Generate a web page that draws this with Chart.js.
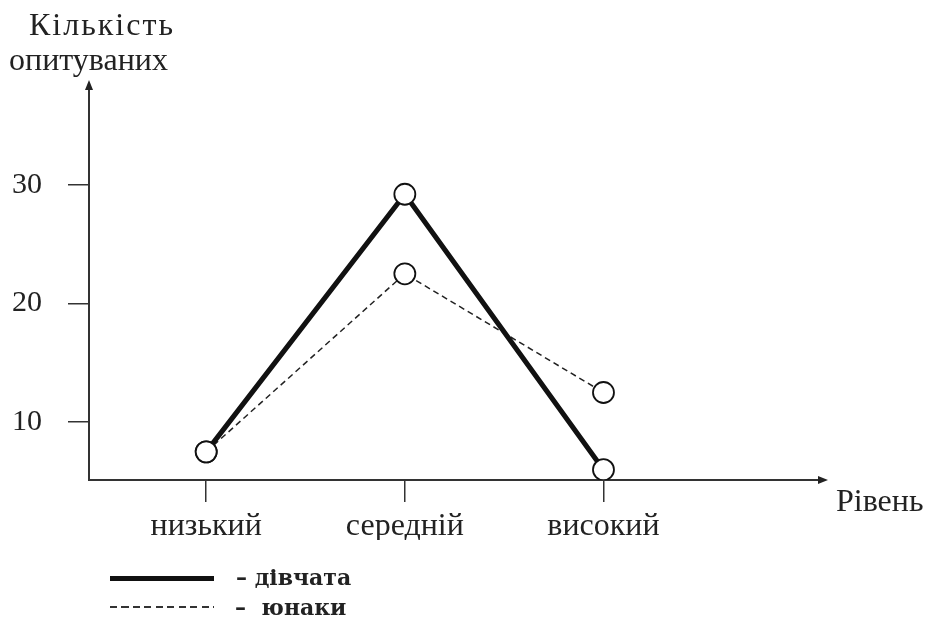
<!DOCTYPE html>
<html>
<head>
<meta charset="utf-8">
<script src="https://cdn.jsdelivr.net/npm/chart.js@4.4.0/dist/chart.umd.min.js"></script>
<style>
  body { margin: 0; background: #fff; }
  #wrap { position: relative; width: 928px; height: 621px; }
  #c { position: absolute; left: 0; top: 0; }
  .t { position: absolute; font-family: 'Liberation Serif', serif; font-size: 32px; color: #222; line-height: 1; white-space: nowrap; }
  .lg { position: absolute; left: 110px; width: 104px; }
  .lt { position: absolute; font-family: 'DejaVu Serif', serif; font-weight: bold; font-size: 22px; color: #222; line-height: 1; white-space: nowrap; }
</style>
</head>
<body>
<div id="wrap">
  <canvas id="c" width="928" height="621"></canvas>
  <div class="t" style="left:29px;top:8px;letter-spacing:2px;">Кількість</div>
  <div class="t" style="left:9px;top:43px;">опитуваних</div>
  <div class="t" style="left:836px;top:484px;">Рівень</div>
  <div class="lg" style="top:576px;height:5px;background:#111;"></div>
  <div class="lt" style="left:236px;top:566px;">– дівчата</div>
  <div class="lg" style="top:606px;height:2px;background:repeating-linear-gradient(90deg,#333 0 7px,transparent 7px 11.5px);"></div>
  <div class="lt" style="left:235px;top:596px;">–&nbsp; юнаки</div>
</div>
<script>
const categories = ['низький', 'середній', 'високий'];
const girls = [7.5, 29.2, 6];
const boys = [7.5, 22.5, 12.5];
const yTicks = [10, 20, 30];

const toPoints = arr => arr.map((v, i) => ({ x: i, y: v }));

// arrow heads at the ends of the axes
const arrows = {
  id: 'arrows',
  afterDraw(chart) {
    const ctx = chart.ctx;
    const a = chart.chartArea;
    ctx.save();
    ctx.fillStyle = '#222';
    ctx.beginPath();
    ctx.moveTo(a.left, a.top - 8);
    ctx.lineTo(a.left - 4, a.top + 2);
    ctx.lineTo(a.left + 4, a.top + 2);
    ctx.fill();
    ctx.beginPath();
    ctx.moveTo(a.right + 8, a.bottom);
    ctx.lineTo(a.right - 2, a.bottom - 4);
    ctx.lineTo(a.right - 2, a.bottom + 4);
    ctx.fill();
    ctx.restore();
  }
};

new Chart(document.getElementById('c'), {
  type: 'line',
  data: {
    datasets: [{
      label: 'дівчата',
      data: toPoints(girls),
      borderColor: '#111',
      borderWidth: 5,
      pointRadius: 10.5,
      pointBorderWidth: 1.8,
      pointBackgroundColor: '#fff',
      pointBorderColor: '#111',
      tension: 0
    }, {
      label: 'юнаки',
      data: toPoints(boys),
      borderColor: '#222',
      borderWidth: 1.5,
      borderDash: [6, 4],
      pointRadius: 10.5,
      pointBorderWidth: 1.8,
      pointBackgroundColor: '#fff',
      pointBorderColor: '#111',
      tension: 0
    }]
  },
  options: {
    responsive: false,
    animation: false,
    layout: { padding: { left: 0, top: 88, right: 108, bottom: 81 } },
    plugins: { legend: { display: false }, tooltip: { enabled: false } },
    scales: {
      x: {
        type: 'linear',
        min: -0.59,
        max: 3.09,
        afterBuildTicks: s => { s.ticks = categories.map((c, i) => ({ value: i })); },
        afterFit: s => { s.height = 60; },
        grid: { drawOnChartArea: false, drawTicks: true, tickLength: 22, color: '#333', lineWidth: 1.5 },
        border: { color: '#333', width: 2 },
        ticks: {
          callback: v => categories[v],
          padding: 5,
          maxRotation: 0,
          color: '#222',
          font: { family: 'Liberation Serif', size: 32 }
        }
      },
      y: {
        min: 5.13,
        max: 38.15,
        afterBuildTicks: s => { s.ticks = yTicks.map(v => ({ value: v })); },
        afterFit: s => { s.width = 89; },
        grid: { drawOnChartArea: false, drawTicks: true, tickLength: 21, color: '#333', lineWidth: 1.5 },
        border: { color: '#333', width: 2 },
        ticks: {
          padding: 26,
          color: '#222',
          font: { family: 'Liberation Serif', size: 30 }
        }
      }
    }
  },
  plugins: [arrows]
});
</script>
</body>
</html>
